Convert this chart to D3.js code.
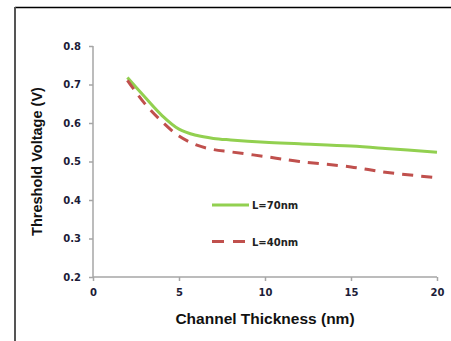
<!DOCTYPE html>
<html>
<head>
<meta charset="utf-8">
<script src="https://cdn.jsdelivr.net/npm/d3@7"></script>
<style>
  body { margin: 0; background: #fff; }
  text { font-family: "Liberation Sans", Arial, sans-serif; font-weight: bold; }
  .small { font-family: "DejaVu Sans", Verdana, sans-serif; }
</style>
</head>
<body>
<script>
// channel thickness (nm)
var thickness = [2, 3, 4, 5, 6, 7, 8, 10, 12, 15, 17, 20];
// threshold voltage (V)
var vt70 = [0.718, 0.668, 0.620, 0.584, 0.568, 0.560, 0.556, 0.550, 0.546, 0.540, 0.534, 0.524];
var vt40 = [0.711, 0.651, 0.604, 0.566, 0.543, 0.531, 0.525, 0.513, 0.500, 0.486, 0.472, 0.458];
var seriesNames = ["L=70nm", "L=40nm"];
var xTicks = [0, 5, 10, 15, 20];
var yTicks = [0.2, 0.3, 0.4, 0.5, 0.6, 0.7, 0.8];

var svgWidth = 451, svgHeight = 341;
var margin = { top: 46, left: 93, right: 14, bottom: 64 };
var width = svgWidth - margin.left - margin.right;
var height = svgHeight - margin.top - margin.bottom;

var svg = d3.select("body").append("svg")
  .attr("width", svgWidth)
  .attr("height", svgHeight);

// outer frame (partial, cropped figure)
svg.append("line").attr("x1", 15).attr("x2", svgWidth).attr("y1", 7.5).attr("y2", 7.5)
  .attr("stroke", "#000").attr("stroke-width", 1.5);
svg.append("line").attr("x1", 15).attr("x2", 15).attr("y1", 7).attr("y2", svgHeight)
  .attr("stroke", "#555").attr("stroke-width", 2);

var chart = svg.append("g")
  .attr("transform", `translate(${margin.left}, ${margin.top})`);

var x = d3.scaleLinear().domain([0, 20]).range([0, width]);
var y = d3.scaleLinear().domain([0.2, 0.8]).range([height, 0]);

var bottomAxis = d3.axisBottom(x).tickValues(xTicks).tickSize(4).tickPadding(8).tickFormat(d3.format("d"));
var leftAxis = d3.axisLeft(y).tickValues(yTicks).tickSize(4).tickPadding(8).tickFormat(d3.format(".1f"));

var xg = chart.append("g").attr("transform", `translate(0, ${height})`).call(bottomAxis);
var yg = chart.append("g").call(leftAxis);

[xg, yg].forEach(function(g) {
  g.select(".domain").attr("stroke", "#a6a6a6").attr("stroke-width", 1.5);
  g.selectAll(".tick line").attr("stroke", "#a6a6a6").attr("stroke-width", 1.5);
  g.selectAll(".tick text").attr("class", "small").attr("fill", "#1c1c38").style("font-size", "10px");
});
// keep the axis line plain
xg.select(".domain").attr("d", `M0,0H${width}`);
yg.select(".domain").attr("d", `M0,${height}V0`);

var line = d3.line()
  .x(function(d) { return x(d[0]); })
  .y(function(d) { return y(d[1]); })
  .curve(d3.curveCatmullRom.alpha(0.5));

chart.append("path")
  .datum(d3.zip(thickness, vt70))
  .attr("d", line)
  .attr("fill", "none")
  .attr("stroke", "#92d050")
  .attr("stroke-width", 3);

chart.append("path")
  .datum(d3.zip(thickness, vt40))
  .attr("d", line)
  .attr("fill", "none")
  .attr("stroke", "#c0504d")
  .attr("stroke-width", 3)
  .attr("stroke-dasharray", "11,8");

// legend
var legend = chart.append("g").attr("transform", `translate(${212 - margin.left}, 0)`);
[[y(0.387), "#92d050", null, seriesNames[0]], [y(0.292), "#c0504d", "12,9", seriesNames[1]]].forEach(function(l) {
  legend.append("line")
    .attr("x1", 0).attr("x2", 37).attr("y1", l[0]).attr("y2", l[0])
    .attr("stroke", l[1]).attr("stroke-width", 3)
    .attr("stroke-dasharray", l[2]);
  legend.append("text")
    .attr("class", "small")
    .attr("x", 40).attr("y", l[0] + 4)
    .attr("fill", "#222")
    .style("font-size", "10px")
    .text(l[3]);
});

// axis titles
chart.append("text")
  .attr("x", width / 2)
  .attr("y", height + 47)
  .attr("text-anchor", "middle")
  .style("font-size", "15.5px")
  .attr("fill", "#111")
  .text("Channel Thickness (nm)");

chart.append("text")
  .attr("transform", `translate(${42 - margin.left}, ${height / 2}) rotate(-90)`)
  .attr("text-anchor", "middle")
  .style("font-size", "14.5px")
  .attr("fill", "#111")
  .text("Threshold Voltage (V)");
</script>
</body>
</html>
